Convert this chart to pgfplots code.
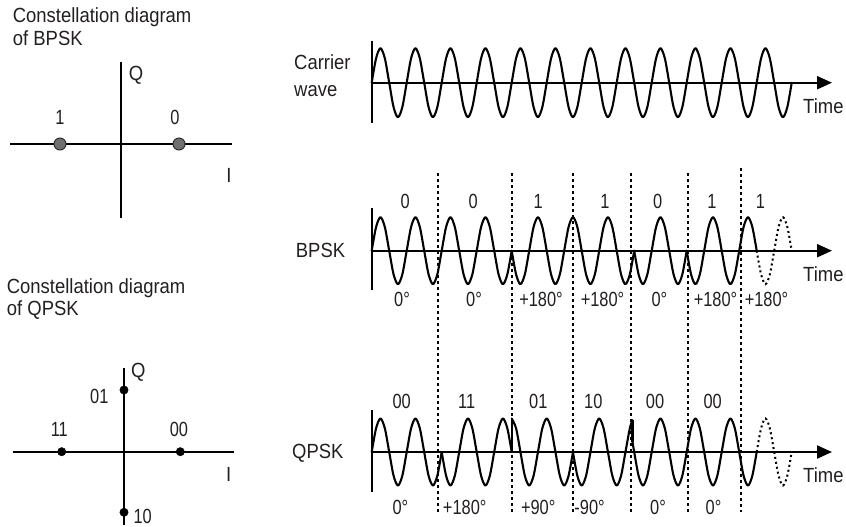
\documentclass[border=0pt]{standalone}
\usepackage{fontspec}
\setmainfont{Liberation Sans}[FakeStretch=0.9]
\newfontfamily\narrow{Liberation Sans}[FakeStretch=0.8]
\usepackage{pgfplots}
\pgfplotsset{compat=1.18}
\usetikzlibrary{arrows.meta}
\definecolor{txt}{RGB}{35,31,32}
\definecolor{ptgray}{RGB}{112,112,114}
\definecolor{ptdark}{RGB}{45,45,45}
\pgfplotsset{
  wave/.style={anchor=south west, scale only axis, width=420pt, xmin=0, xmax=12, ymin=-1, ymax=1, hide axis, clip=false},
  wv/.style={black, line width=2.1pt, line join=round, line cap=round, smooth},
  wvd/.style={black, line width=2pt, dash pattern=on 2pt off 3pt, smooth},
  ln/.style={black, line width=2.2pt},
  dl/.style={black, line width=2.2pt, dash pattern=on 3pt off 3pt},
}
\begin{document}
\begin{tikzpicture}[x=1pt,y=1pt,every node/.style={font=\fontsize{20.5}{24}\selectfont, text=txt, inner sep=0pt},
  nl/.style={font=\fontsize{20.5}{24}\selectfont\narrow}]
\useasboundingbox (0,0) rectangle (846,-527);
\begin{axis}[at={(0pt,0pt)}, anchor=north west, scale only axis, width=846pt, height=527pt,
  xmin=0, xmax=846, ymin=0, ymax=527, y dir=reverse, hide axis, clip=false]
% ---- BPSK constellation
\node[anchor=base west] at (axis cs:12.7,22.7) {Constellation diagram};
\node[anchor=base west] at (axis cs:12.7,45) {of BPSK};
\addplot[ln] coordinates {(10,144)(231.7,144)};
\addplot[ln] coordinates {(120.7,61.7)(120.7,218.3)};
\addplot[only marks, mark=*, mark size=6pt, mark options={fill=ptgray, draw=ptdark, line width=1pt}] coordinates {(60,144)(179,144)};
\node[anchor=base] at (axis cs:136,80) {Q};
\node[anchor=base, nl] at (axis cs:60,124) {1};
\node[anchor=base, nl] at (axis cs:175,124) {0};
\node[anchor=base] at (axis cs:229,182) {I};
% ---- QPSK constellation
\node[anchor=base west] at (axis cs:6.7,293.3) {Constellation diagram};
\node[anchor=base west] at (axis cs:6.7,315) {of QPSK};
\addplot[ln] coordinates {(12.7,451.7)(234.3,451.7)};
\addplot[ln] coordinates {(124,368.3)(124,525)};
\addplot[only marks, mark=*, mark size=4.2pt, mark options={fill=black, draw=black}] coordinates {(61.7,451.7)(180.3,451.7)(124,390)(124,512.3)};
\node[anchor=base] at (axis cs:138.3,377.5) {Q};
\node[anchor=base, nl] at (axis cs:99.3,403) {01};
\node[anchor=base, nl] at (axis cs:59.3,436.3) {11};
\node[anchor=base, nl] at (axis cs:179,436.3) {00};
\node[anchor=base] at (axis cs:228.7,481) {I};
\node[anchor=base, nl] at (axis cs:142.7,523) {10};
% ---- wave frames
\node[anchor=base west] at (axis cs:294,69.3) {Carrier};
\node[anchor=base west] at (axis cs:294,96.7) {wave};
\node[anchor=base west] at (axis cs:295.7,257) {BPSK};
\node[anchor=base west] at (axis cs:292,458.7) {QPSK};
\node[anchor=base west] at (axis cs:803,113.3) {Time};
\node[anchor=base west] at (axis cs:803,281.7) {Time};
\node[anchor=base west] at (axis cs:803,482) {Time};
\addplot[ln] coordinates {(371.7,40.7)(371.7,122.7)};
\addplot[ln, -{Triangle[length=15pt,width=13pt]}] coordinates {(371.7,82.7)(832,82.7)};
\addplot[ln] coordinates {(371.7,208)(371.7,290)};
\addplot[ln, -{Triangle[length=15pt,width=13pt]}] coordinates {(371.7,250.7)(832,250.7)};
\addplot[ln] coordinates {(371.7,410)(371.7,491.7)};
\addplot[ln, -{Triangle[length=15pt,width=13pt]}] coordinates {(371.7,452)(832,452)};
% ---- dotted symbol boundaries
\addplot[dl] coordinates {(438.3,173)(438.3,512)};
\addplot[dl] coordinates {(511.7,173)(511.7,512)};
\addplot[dl] coordinates {(573.3,173)(573.3,512)};
\addplot[dl] coordinates {(631,173)(631,512)};
\addplot[dl] coordinates {(687.7,173)(687.7,512)};
\addplot[dl] coordinates {(741,168)(741,512)};
% ---- BPSK labels
\node[anchor=base, nl] at (axis cs:405.2,208.5) {0};
\node[anchor=base, nl] at (axis cs:473.3,208.5) {0};
\node[anchor=base, nl] at (axis cs:538.3,208.5) {1};
\node[anchor=base, nl] at (axis cs:605,208.5) {1};
\node[anchor=base, nl] at (axis cs:657.6,208.5) {0};
\node[anchor=base, nl] at (axis cs:712,208.5) {1};
\node[anchor=base, nl] at (axis cs:760.5,208.5) {1};
\node[anchor=base, nl] at (axis cs:402,306.5) {0°};
\node[anchor=base, nl] at (axis cs:474,306.5) {0°};
\node[anchor=base, nl] at (axis cs:541,306.5) {+180°};
\node[anchor=base, nl] at (axis cs:602.5,306.5) {+180°};
\node[anchor=base, nl] at (axis cs:659.4,306.5) {0°};
\node[anchor=base, nl] at (axis cs:715.5,306.5) {+180°};
\node[anchor=base, nl] at (axis cs:766.5,306.5) {+180°};
% ---- QPSK labels
\node[anchor=base, nl] at (axis cs:401.7,408.3) {00};
\node[anchor=base, nl] at (axis cs:466.7,408.3) {11};
\node[anchor=base, nl] at (axis cs:538.3,408.3) {01};
\node[anchor=base, nl] at (axis cs:593.3,408.3) {10};
\node[anchor=base, nl] at (axis cs:655,408.3) {00};
\node[anchor=base, nl] at (axis cs:712.7,408.3) {00};
\node[anchor=base, nl] at (axis cs:400.4,514) {0°};
\node[anchor=base, nl] at (axis cs:464.7,514) {+180°};
\node[anchor=base, nl] at (axis cs:538.2,514) {+90°};
\node[anchor=base, nl] at (axis cs:589.6,514) {-90°};
\node[anchor=base, nl] at (axis cs:658,514) {0°};
\node[anchor=base, nl] at (axis cs:713.5,514) {0°};
\end{axis}
% ---- carrier wave
\begin{axis}[wave, height=69pt, at={(371.7pt,-117.2pt)}]
\addplot[wv] coordinates {
(0,0)(0.125,0.7071)(0.25,1)(0.375,0.7071)(0.5,0)(0.625,-0.7071)(0.75,-1)(0.875,-0.7071)
(1,0)(1.125,0.7071)(1.25,1)(1.375,0.7071)(1.5,0)(1.625,-0.7071)(1.75,-1)(1.875,-0.7071)
(2,0)(2.125,0.7071)(2.25,1)(2.375,0.7071)(2.5,0)(2.625,-0.7071)(2.75,-1)(2.875,-0.7071)
(3,0)(3.125,0.7071)(3.25,1)(3.375,0.7071)(3.5,0)(3.625,-0.7071)(3.75,-1)(3.875,-0.7071)
(4,0)(4.125,0.7071)(4.25,1)(4.375,0.7071)(4.5,0)(4.625,-0.7071)(4.75,-1)(4.875,-0.7071)
(5,0)(5.125,0.7071)(5.25,1)(5.375,0.7071)(5.5,0)(5.625,-0.7071)(5.75,-1)(5.875,-0.7071)
(6,0)(6.125,0.7071)(6.25,1)(6.375,0.7071)(6.5,0)(6.625,-0.7071)(6.75,-1)(6.875,-0.7071)
(7,0)(7.125,0.7071)(7.25,1)(7.375,0.7071)(7.5,0)(7.625,-0.7071)(7.75,-1)(7.875,-0.7071)
(8,0)(8.125,0.7071)(8.25,1)(8.375,0.7071)(8.5,0)(8.625,-0.7071)(8.75,-1)(8.875,-0.7071)
(9,0)(9.125,0.7071)(9.25,1)(9.375,0.7071)(9.5,0)(9.625,-0.7071)(9.75,-1)(9.875,-0.7071)
(10,0)(10.125,0.7071)(10.25,1)(10.375,0.7071)(10.5,0)(10.625,-0.7071)(10.75,-1)(10.875,-0.7071)
(11,0)(11.125,0.7071)(11.25,1)(11.375,0.7071)(11.5,0)(11.625,-0.7071)(11.75,-1)(11.875,-0.7071)
(12,0)};
\end{axis}
% ---- BPSK wave
\begin{axis}[wave, height=67pt, at={(371.7pt,-284.2pt)}]
\addplot[wv] coordinates {
(0,0)(0.125,0.7071)(0.25,1)(0.375,0.7071)(0.5,0)(0.625,-0.7071)(0.75,-1)(0.875,-0.7071)
(1,0)(1.125,0.7071)(1.25,1)(1.375,0.7071)(1.5,0)(1.625,-0.7071)(1.75,-1)(1.875,-0.7071)
(2,0)(2.125,0.7071)(2.25,1)(2.375,0.7071)(2.5,0)(2.625,-0.7071)(2.75,-1)(2.875,-0.7071)
(3,0)(3.125,0.7071)(3.25,1)(3.375,0.7071)(3.5,0)(3.625,-0.7071)(3.75,-1)(3.875,-0.7071)
(4,0)};
\addplot[wv] coordinates {
(4,0)(4.125,-0.7071)(4.25,-1)(4.375,-0.7071)(4.5,0)(4.625,0.7071)(4.75,1)(4.875,0.7071)
(5,0)(5.125,-0.7071)(5.25,-1)(5.375,-0.7071)(5.5,0)(5.625,0.7071)(5.75,1)(5.875,0.7071)
(6,0)(6.125,-0.7071)(6.25,-1)(6.375,-0.7071)(6.5,0)(6.625,0.7071)(6.75,1)(6.875,0.7071)
(7,0)(7.125,-0.7071)(7.25,-1)(7.375,-0.7071)(7.5,0)};
\addplot[wv] coordinates {
(7.5,0)(7.625,-0.7071)(7.75,-1)(7.875,-0.7071)(8,0)(8.125,0.7071)(8.25,1)(8.375,0.7071)
(8.5,0)(8.625,-0.7071)(8.75,-1)(8.875,-0.7071)(9,0)};
\addplot[wv] coordinates {
(9,0)(9.125,-0.7071)(9.25,-1)(9.375,-0.7071)(9.5,0)(9.625,0.7071)(9.75,1)(9.875,0.7071)
(10,0)(10.125,-0.7071)(10.25,-1)(10.375,-0.7071)(10.5,0)(10.625,0.7071)(10.75,1)(10.875,0.7071)
(11,0)};
\addplot[wvd] coordinates {
(11,0)(11.125,-0.7071)(11.25,-1)(11.375,-0.7071)(11.5,0)(11.625,0.7071)(11.75,1)(11.875,0.7071)(12,0)};
\end{axis}
% ---- QPSK wave
\begin{axis}[wave, height=67pt, at={(371.7pt,-485.5pt)}]
\addplot[wv] coordinates {
(0,0)(0.125,0.7071)(0.25,1)(0.375,0.7071)(0.5,0)(0.625,-0.7071)(0.75,-1)(0.875,-0.7071)
(1,0)(1.125,0.7071)(1.25,1)(1.375,0.7071)(1.5,0)(1.625,-0.7071)(1.75,-1)(1.875,-0.7071)
(2,0)};
\addplot[wv] coordinates {
(2,0)(2.125,-0.7071)(2.25,-1)(2.375,-0.7071)(2.5,0)(2.625,0.7071)(2.75,1)(2.875,0.7071)
(3,0)(3.125,-0.7071)(3.25,-1)(3.375,-0.7071)(3.5,0)(3.625,0.7071)(3.75,1)(3.875,0.7071)
(4,0)};
\addplot[black, line width=2.1pt] coordinates {(4,0)(4,1)};
\addplot[wv] coordinates {
(4,1)(4.125,0.7071)(4.25,0)(4.375,-0.7071)(4.5,-1)(4.625,-0.7071)(4.75,0)(4.875,0.7071)
(5,1)(5.125,0.7071)(5.25,0)(5.375,-0.7071)(5.5,-1)(5.625,-0.7071)(5.75,0)};
\addplot[wv] coordinates {
(5.75,0)(5.875,-0.7071)(6,-1)(6.125,-0.7071)(6.25,0)(6.375,0.7071)(6.5,1)(6.625,0.7071)
(6.75,0)(6.875,-0.7071)(7,-1)(7.125,-0.7071)(7.25,0)(7.375,0.7071)(7.45,0.951)};
\addplot[black, line width=2.1pt] coordinates {(7.45,0.951)(7.45,0.309)};
\addplot[wv] coordinates {
(7.45,0.309)(7.5,0)(7.625,-0.7071)(7.75,-1)(7.875,-0.7071)
(8,0)(8.125,0.7071)(8.25,1)(8.375,0.7071)(8.5,0)(8.625,-0.7071)(8.75,-1)(8.875,-0.7071)
(9,0)(9.125,0.7071)(9.25,1)(9.375,0.7071)(9.5,0)(9.625,-0.7071)(9.75,-1)(9.875,-0.7071)
(10,0)(10.125,0.7071)(10.25,1)(10.375,0.7071)(10.5,0)(10.625,-0.7071)(10.75,-1)(10.875,-0.7071)
(11,0)};
\addplot[wvd] coordinates {
(11,0)(11.125,0.7071)(11.25,1)(11.375,0.7071)(11.5,0)(11.625,-0.7071)(11.75,-1)(11.875,-0.7071)(12,0)};
\end{axis}
\end{tikzpicture}
\end{document}
